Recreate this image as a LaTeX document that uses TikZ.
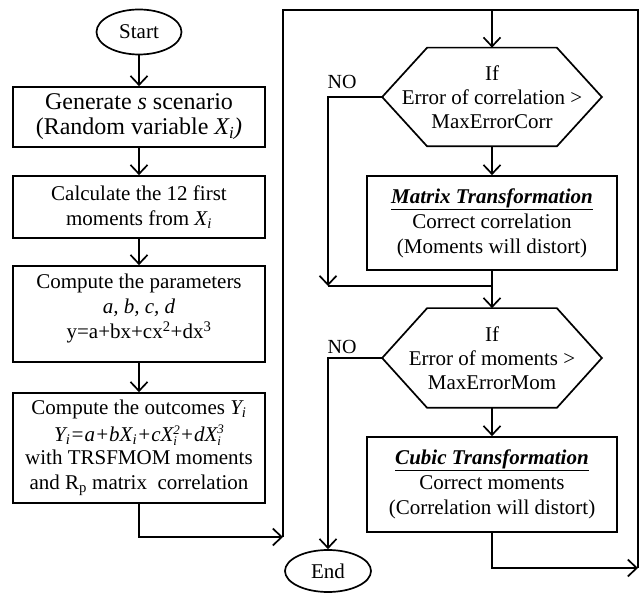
\documentclass[tikz,border=0pt]{standalone}
\usepackage{fontspec}
\setmainfont{Liberation Serif}
\usetikzlibrary{arrows.meta,shapes.geometric}
\newcommand\mysubsup[2]{\raisebox{-4pt}{\fontsize{13}{13}\selectfont\shortstack[l]{#2\\#1}}}
\begin{document}
\begin{tikzpicture}[x=1pt,y=-1pt,line width=1.7pt,
  box/.style={draw,rectangle,inner sep=0pt,align=center,font=\fontsize{21}{25}\selectfont},
  hexnode/.style={rectangle,inner sep=0pt,align=center,font=\fontsize{21}{24}\selectfont},
  oval/.style={draw,ellipse,inner sep=0pt,font=\fontsize{21}{25}\selectfont},
  lbl/.style={font=\fontsize{20}{24}\selectfont,inner sep=0pt},
  arr/.style={-{Straight Barb[length=9pt,width=17pt,line width=1.7pt]}}]
\useasboundingbox (0,0) rectangle (640,593);

% left column
\node[oval,minimum width=85,minimum height=45] (start) at (139,32) {Start};
\node[box,minimum width=252,minimum height=60,font=\fontsize{24}{25}\selectfont] (b1) at (139,117)
  {Generate \textit{s} scenario\\(Random variable \textit{X\textsubscript{i})}};
\node[box,minimum width=252,minimum height=62] (b2) at (139,207)
  {Calculate the 12 first\\moments from \textit{X\textsubscript{i}}};
\node[box,minimum width=252,minimum height=96] (b3) at (139,314)
  {Compute the parameters\\\textit{a, b, c, d}\\y=a+bx+cx\textsuperscript{2}+dx\textsuperscript{3}\\[-10pt]\mbox{}};
\node[box,minimum width=252,minimum height=110] (b4) at (139,448)
  {Compute the outcomes \textit{Y\textsubscript{i}}\\[2pt]
   \textit{Y\textsubscript{i}=a+bX\textsubscript{i}+cX\mysubsup{i}{2}+dX\mysubsup{i}{3}}\\[-2pt]
   with TRSFMOM moments\\and R\textsubscript{p} matrix\ \ correlation};

\draw[arr] (start) -- (b1);
\draw[arr] (b1) -- (b2);
\draw[arr] (b2) -- (b3);
\draw[arr] (b3) -- (b4);

% loop trunk
\coordinate (t0) at (283,537);
\coordinate (tl) at (283,10);
\coordinate (tr) at (638,10);
\coordinate (rb) at (638,568);
\coordinate (ht) at (492,10);
\draw[arr] (b4.south) |- (t0);
\draw (t0) -- (tl) -- (tr) -- (rb);

% right column
\node[hexnode,minimum width=218,minimum height=97] (h1) at (492,97)
  {If\\Error of correlation >\\MaxErrorCorr};
\draw (h1.west) -- ([xshift=45pt]h1.north west) -- ([xshift=-45pt]h1.north east)
  -- (h1.east) -- ([xshift=-45pt]h1.south east) -- ([xshift=45pt]h1.south west) -- cycle;
\node[box,minimum width=250,minimum height=94] (m1) at (492,223)
  {\underline{\textbf{\textit{Matrix Transformation}}}\\Correct correlation\\(Moments will distort)};

\node[hexnode,minimum width=218,minimum height=98] (h2) at (492,358)
  {If\\Error of moments >\\MaxErrorMom};
\draw (h2.west) -- ([xshift=45pt]h2.north west) -- ([xshift=-45pt]h2.north east)
  -- (h2.east) -- ([xshift=-45pt]h2.south east) -- ([xshift=45pt]h2.south west) -- cycle;
\node[box,minimum width=250,minimum height=95] (c1) at (492,484.5)
  {\underline{\textbf{\textit{Cubic Transformation}}}\\Correct moments\\(Correlation will distort)};

\node[oval,minimum width=86,minimum height=42] (end) at (328,571) {End};

\coordinate (n1) at (328,286);
\coordinate (j1) at (492,286);

\draw[arr] (ht) -- (h1.north);
\draw[arr] (h1) -- (m1);
\draw[arr] (h1.west) -| (n1);
\draw (n1) -- (j1);
\draw (m1.south) -- (j1);
\draw[arr] (j1) -- (h2.north);
\draw[arr] (h2) -- (c1);
\draw[arr] (h2.west) -| (end.north);
\draw[arr] (c1.south) |- (rb);

\node[lbl] (no1) at (342,82) {NO};
\node[lbl] (no2) at (342,347) {NO};
\end{tikzpicture}
\end{document}
